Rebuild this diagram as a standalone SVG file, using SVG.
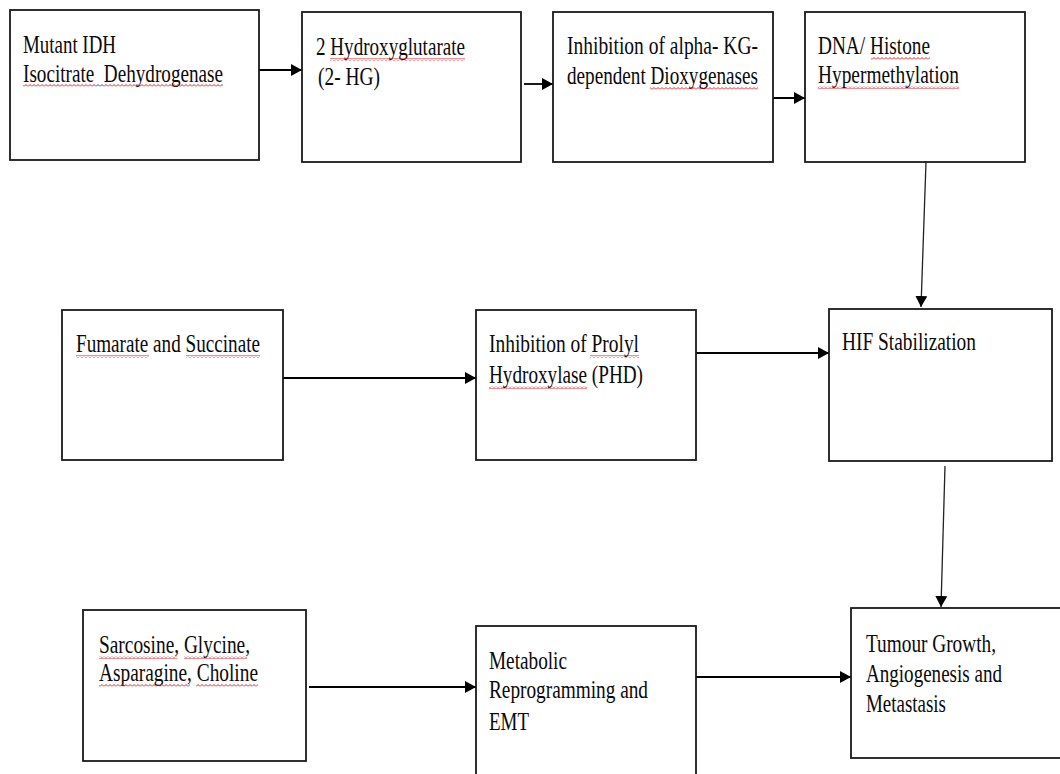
<svg xmlns="http://www.w3.org/2000/svg" width="1060" height="774" viewBox="0 0 1060 774">
<style>
.box{fill:#fff;stroke:#1a1a1a;stroke-width:1.8}
.t{font-family:"Liberation Serif","Times New Roman",serif;font-size:25px;fill:#0a0a0a}
.c{stroke:#000;stroke-width:1.8;fill:none}
.cv{stroke:#222;stroke-width:1.3;fill:none}
.sq{fill:url(#squig)}
.sqb{fill:url(#squigb)}
</style>
<defs>
<marker id="ah" markerUnits="userSpaceOnUse" markerWidth="12" markerHeight="12" refX="11" refY="6" orient="auto">
<path d="M0,0 L11,6 L0,12 z" fill="#000"/>
</marker>
<pattern id="squig" patternUnits="userSpaceOnUse" width="4" height="3">
<path d="M0,2.5 L2,0.5 L4,2.5" stroke="#e0202a" stroke-width="1" fill="none"/>
</pattern>
<pattern id="squigb" patternUnits="userSpaceOnUse" width="4" height="3">
<path d="M0,2.5 L2,0.5 L4,2.5" stroke="#2040e0" stroke-width="1" fill="none"/>
</pattern>
</defs>
<rect width="1060" height="774" fill="#fff"/>

<g id="connectors">
<line class="c" x1="259" y1="70" x2="302" y2="70" marker-end="url(#ah)"/>
<line class="c" x1="524" y1="84" x2="553" y2="84" marker-end="url(#ah)"/>
<line class="c" x1="771" y1="98" x2="805" y2="98" marker-end="url(#ah)"/>
<line class="cv" x1="926" y1="162" x2="921" y2="307" marker-end="url(#ah)"/>
<line class="c" x1="283" y1="378" x2="476" y2="378" marker-end="url(#ah)"/>
<line class="c" x1="696" y1="353" x2="829" y2="353" marker-end="url(#ah)"/>
<line class="cv" x1="945" y1="466" x2="941" y2="607" marker-end="url(#ah)"/>
<line class="c" x1="309" y1="687" x2="476" y2="687" marker-end="url(#ah)"/>
<line class="c" x1="696" y1="677" x2="851" y2="677" marker-end="url(#ah)"/>
</g>

<g id="n-mutant-idh">
<rect class="box" x="10" y="10" width="249" height="150"/>
<text class="t" x="23" y="53" textLength="93" lengthAdjust="spacingAndGlyphs">Mutant IDH</text>
<text class="t" x="23" y="82" textLength="200" lengthAdjust="spacingAndGlyphs" xml:space="preserve">Isocitrate  Dehydrogenase</text>
<rect class="sq" x="23" y="84" width="73" height="3"/>
<rect class="sqb" x="96" y="84" width="7" height="3"/>
<rect class="sq" x="103" y="84" width="120" height="3"/>
</g>

<g id="n-2hg">
<rect class="box" x="302" y="12" width="219" height="150"/>
<text class="t" x="316" y="55" textLength="149" lengthAdjust="spacingAndGlyphs">2 Hydroxyglutarate</text>
<text class="t" x="318" y="85" textLength="62" lengthAdjust="spacingAndGlyphs">(2- HG)</text>
<rect class="sq" x="330" y="58" width="135" height="3"/>
</g>

<g id="n-alpha-kg">
<rect class="box" x="553" y="12" width="220" height="150"/>
<text class="t" x="567" y="54" textLength="191" lengthAdjust="spacingAndGlyphs">Inhibition of alpha- KG-</text>
<text class="t" x="567" y="84" textLength="191" lengthAdjust="spacingAndGlyphs">dependent Dioxygenases</text>
<rect class="sq" x="650" y="87" width="108" height="3"/>
</g>

<g id="n-dna-histone">
<rect class="box" x="805" y="12" width="220" height="150"/>
<text class="t" x="818" y="54" textLength="112" lengthAdjust="spacingAndGlyphs">DNA/ Histone</text>
<text class="t" x="818" y="83" textLength="141" lengthAdjust="spacingAndGlyphs">Hypermethylation</text>
<rect class="sq" x="871" y="57" width="59" height="3"/>
<rect class="sq" x="818" y="86" width="141" height="3"/>
</g>

<g id="n-fumarate">
<rect class="box" x="62" y="310" width="221" height="150"/>
<text class="t" x="76" y="352" textLength="184" lengthAdjust="spacingAndGlyphs">Fumarate and Succinate</text>
<rect class="sq" x="76" y="355" width="73" height="3"/>
<rect class="sq" x="186" y="355" width="74" height="3"/>
</g>

<g id="n-phd">
<rect class="box" x="476" y="310" width="220" height="150"/>
<text class="t" x="489" y="352" textLength="150" lengthAdjust="spacingAndGlyphs">Inhibition of Prolyl</text>
<text class="t" x="489" y="383" textLength="154" lengthAdjust="spacingAndGlyphs">Hydroxylase (PHD)</text>
<rect class="sq" x="590" y="355" width="49" height="3"/>
<rect class="sq" x="489" y="386" width="98" height="3"/>
</g>

<g id="n-hif">
<rect class="box" x="829" y="309" width="223" height="152"/>
<text class="t" x="842" y="350" textLength="134" lengthAdjust="spacingAndGlyphs">HIF Stabilization</text>
</g>

<g id="n-sarcosine">
<rect class="box" x="83" y="610" width="223" height="151"/>
<text class="t" x="99" y="653" textLength="151" lengthAdjust="spacingAndGlyphs">Sarcosine, Glycine,</text>
<text class="t" x="99" y="681" textLength="159" lengthAdjust="spacingAndGlyphs">Asparagine, Choline</text>
<rect class="sq" x="99" y="656" width="78" height="3"/>
<rect class="sq" x="184" y="656" width="63" height="3"/>
<rect class="sq" x="99" y="684" width="91" height="3"/>
<rect class="sq" x="196" y="684" width="62" height="3"/>
</g>

<g id="n-metabolic">
<rect class="box" x="476" y="626" width="220" height="160"/>
<text class="t" x="489" y="669" textLength="78" lengthAdjust="spacingAndGlyphs">Metabolic</text>
<text class="t" x="489" y="698" textLength="159" lengthAdjust="spacingAndGlyphs">Reprogramming and</text>
<text class="t" x="489" y="730" textLength="40" lengthAdjust="spacingAndGlyphs">EMT</text>
</g>

<g id="n-tumour">
<rect class="box" x="851" y="608" width="220" height="150"/>
<text class="t" x="866" y="652" textLength="130" lengthAdjust="spacingAndGlyphs">Tumour Growth,</text>
<text class="t" x="866" y="682" textLength="136" lengthAdjust="spacingAndGlyphs">Angiogenesis and</text>
<text class="t" x="866" y="712" textLength="80" lengthAdjust="spacingAndGlyphs">Metastasis</text>
</g>
</svg>
